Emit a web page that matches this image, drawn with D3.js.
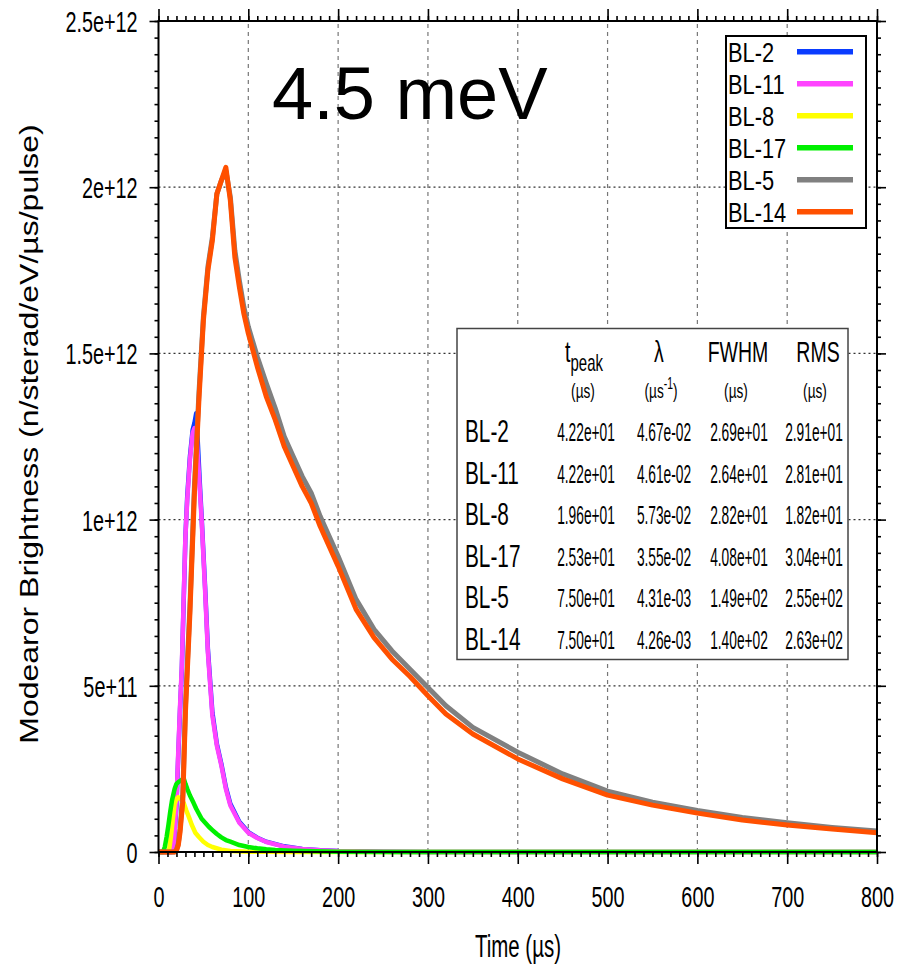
<!DOCTYPE html>
<html><head><meta charset="utf-8">
<script src="https://cdn.jsdelivr.net/npm/d3@7"></script>
<style>
html,body{margin:0;padding:0;background:#fff;}
svg{display:block;}
text{font-family:"Liberation Sans",Arial,Helvetica,sans-serif;fill:#000;}
</style></head>
<body>
<svg id="chart" width="897" height="964"></svg>
<script>
// ---------- data ----------
const seriesNames = ["BL-2","BL-11","BL-8","BL-17","BL-5","BL-14"];
// time grids (µs)
const tFast = [0,10,15,17,20,22,24,26,28,30,32,35,38,40,42,44,46,48,50,52,55,60,65,70,75,80,90,100,110,120,140,160,180,200,250,300,400,500,600,700,800];
const tSlow = [0,10,18,20,22,24,27,30,35,40,45,50,55,60,65,70,75,80,85,90,95,100,110,120,130,140,150,160,170,180,190,200,220,240,260,280,300,320,350,400,450,500,550,600,650,700,750,800];
const tBL8  = [0,10,12,14,16,18,20,22,25,28,31,34,37,41,45,50,55,60,70,80,100,120,150,200,800];
const tBL17 = [0,5,7,9,11,13,15,18,20,22,25,28,30,32,35,39,42,45,48,52,56,60,65,70,75,80,90,100,110,120,130,150,175,200,250,300,800];
// brightness values, units of 1e12 n/sterad/eV/µs/pulse
const vBL2  = [0,0,0,0.02,0.14,0.29,0.43,0.55,0.75,0.95,1.07,1.19,1.27,1.29,1.32,1.22,1.11,1.01,0.90,0.79,0.61,0.42,0.325,0.265,0.195,0.145,0.091,0.060,0.043,0.031,0.017,0.009,0.005,0.003,0.001,0.0003,0,0,0,0,0];
const vBL11 = [0,0,0,0.02,0.15,0.30,0.44,0.56,0.76,0.95,1.06,1.18,1.26,1.275,1.27,1.18,1.09,1.00,0.89,0.78,0.60,0.41,0.32,0.26,0.19,0.14,0.088,0.058,0.042,0.030,0.016,0.009,0.005,0.003,0.001,0.0003,0,0,0,0,0];
const vBL8  = [0,0,0.01,0.05,0.10,0.145,0.16,0.165,0.158,0.148,0.125,0.104,0.082,0.058,0.045,0.031,0.021,0.015,0.007,0.003,0.001,0.0005,0,0,0];
const vBL17 = [0,0,0.015,0.045,0.08,0.12,0.155,0.19,0.205,0.21,0.215,0.222,0.205,0.19,0.17,0.148,0.13,0.115,0.1,0.088,0.076,0.066,0.054,0.044,0.036,0.031,0.021,0.015,0.011,0.008,0.006,0.004,0.002,0.001,0.0003,0,0];
const vBL5  = [0,0,0,0.006,0.025,0.07,0.17,0.44,0.74,1.10,1.38,1.61,1.76,1.85,1.98,2.02,2.05,1.97,1.81,1.72,1.64,1.58,1.49,1.41,1.335,1.25,1.19,1.13,1.08,1.01,0.95,0.89,0.76,0.67,0.605,0.55,0.495,0.44,0.375,0.30,0.235,0.183,0.150,0.125,0.104,0.088,0.074,0.063];
const vBL14 = [0,0,0,0.005,0.02,0.06,0.15,0.42,0.72,1.08,1.36,1.60,1.75,1.84,1.98,2.02,2.06,1.96,1.79,1.70,1.62,1.56,1.46,1.37,1.30,1.22,1.16,1.10,1.05,0.98,0.92,0.86,0.73,0.645,0.58,0.528,0.47,0.415,0.355,0.28,0.22,0.171,0.141,0.117,0.096,0.081,0.069,0.058];

const xTicks = [0,100,200,300,400,500,600,700,800];
const xTickLabels = ["0","100","200","300","400","500","600","700","800"];
const yTicks = [0,5e11,1e12,1.5e12,2e12,2.5e12];
const yTickLabels = ["0","5e+11","1e+12","1.5e+12","2e+12","2.5e+12"];

// table
const tableRows = ["BL-2","BL-11","BL-8","BL-17","BL-5","BL-14"];
const tPeak  = ["4.22e+01","4.22e+01","1.96e+01","2.53e+01","7.50e+01","7.50e+01"];
const lambda = ["4.67e-02","4.61e-02","5.73e-02","3.55e-02","4.31e-03","4.26e-03"];
const fwhm   = ["2.69e+01","2.64e+01","2.82e+01","4.08e+01","1.49e+02","1.40e+02"];
const rms    = ["2.91e+01","2.81e+01","1.82e+01","3.04e+01","2.55e+02","2.63e+02"];

const titleText = "4.5 meV";
const xLabel = "Time (µs)";
const yLabel = "Modearor Brightness (n/sterad/eV/µs/pulse)";

// ---------- styles ----------
const colors = ["#0a3cff","#ff44ff","#ffff00","#00f000","#808080","#ff5000"];
const widths = [4.5,4.5,4.5,4.5,5,5];

const series = [
  {name:seriesNames[0], t:tFast, v:vBL2},
  {name:seriesNames[1], t:tFast, v:vBL11},
  {name:seriesNames[2], t:tBL8,  v:vBL8},
  {name:seriesNames[3], t:tBL17, v:vBL17},
  {name:seriesNames[4], t:tSlow, v:vBL5},
  {name:seriesNames[5], t:tSlow, v:vBL14}
];

const svg = d3.select("#chart");
const L = 158.5, R = 877, T = 21, B = 852;
const x = d3.scaleLinear().domain([0,800]).range([L,R]);
const y = d3.scaleLinear().domain([0,2.5e12]).range([B,T]);
const SX = 0.66; // horizontal squeeze of gnuplot text

// grid
const grid = svg.append("g");
grid.selectAll("line.vg").data(xTicks.slice(1,-1)).join("line")
  .attr("x1",d=>x(d)).attr("x2",d=>x(d)).attr("y1",B).attr("y2",T)
  .attr("stroke","#777").attr("stroke-width",1.2).attr("stroke-dasharray","4,4");
grid.selectAll("line.hg").data(yTicks.slice(1,-1)).join("line")
  .attr("y1",d=>y(d)).attr("y2",d=>y(d)).attr("x1",L).attr("x2",R)
  .attr("stroke","#333").attr("stroke-width",1.2).attr("stroke-dasharray","2,3");

// curves
const line = d3.line().x(d=>x(d[0])).y(d=>y(d[1]*1e12)).curve(d3.curveLinear);
const plot = svg.append("g");
series.forEach((s,i)=>{
  const pts = s.t.map((t,k)=>[t,s.v[k]]);
  plot.append("path").datum(pts).attr("d",line).attr("fill","none")
    .attr("stroke",colors[i]).attr("stroke-width",widths[i])
    .attr("stroke-linejoin","round").attr("stroke-linecap","butt");
});

// axes (ticks outward)
function styleAxis(g){ g.select(".domain").remove(); g.selectAll("line").attr("stroke","#000").attr("stroke-width",1.6); }
const gx = svg.append("g").attr("transform",`translate(0,${B})`)
  .call(d3.axisBottom(x).tickValues(xTicks).tickSize(12).tickFormat((d,i)=>xTickLabels[i]));
styleAxis(gx);
gx.selectAll("text").attr("y",0).attr("dy",null).style("font-size","30px")
  .attr("transform",`translate(0,55) scale(${SX},1)`);
svg.append("g").attr("transform",`translate(0,${B})`)
  .call(d3.axisBottom(x).tickValues(d3.range(0,801,10)).tickSize(5).tickFormat("")).call(styleAxis);
svg.append("g").attr("transform",`translate(0,${T})`)
  .call(d3.axisTop(x).tickValues(xTicks).tickSize(12).tickFormat("")).call(styleAxis);
svg.append("g").attr("transform",`translate(0,${T})`)
  .call(d3.axisTop(x).tickValues(d3.range(0,801,10)).tickSize(5).tickFormat("")).call(styleAxis);

const gy = svg.append("g").attr("transform",`translate(${L},0)`)
  .call(d3.axisLeft(y).tickValues(yTicks).tickSize(9).tickFormat((d,i)=>yTickLabels[i]));
styleAxis(gy);
gy.selectAll("text").attr("x",0).attr("dy",null).attr("y",0).style("font-size","30px")
  .attr("transform",`translate(-21,10.5) scale(${SX},1)`);
svg.append("g").attr("transform",`translate(${L},0)`)
  .call(d3.axisLeft(y).tickValues(d3.range(0,2.5e12+1,5e10)).tickSize(4).tickFormat("")).call(styleAxis);
svg.append("g").attr("transform",`translate(${R},0)`)
  .call(d3.axisRight(y).tickValues(yTicks).tickSize(9).tickFormat("")).call(styleAxis);
svg.append("g").attr("transform",`translate(${R},0)`)
  .call(d3.axisRight(y).tickValues(d3.range(0,2.5e12+1,5e10)).tickSize(4).tickFormat("")).call(styleAxis);

// border on top
svg.append("rect").attr("x",L).attr("y",T).attr("width",R-L).attr("height",B-T)
  .attr("fill","none").attr("stroke","#000").attr("stroke-width",2);

// helper for squeezed text
function stext(parent, tx, ty, str, size, anchor, sx){
  return parent.append("text").attr("transform",`translate(${tx},${ty}) scale(${sx},1)`)
    .attr("text-anchor",anchor).style("font-size",size+"px").text(str);
}

// axis titles
stext(svg, 518, 957, xLabel, 31, "middle", SX);
svg.append("text").attr("transform",`translate(38,434) scale(0.8,1) rotate(-90)`)
  .attr("text-anchor","middle").style("font-size","32px").text(yLabel);

// title
svg.append("text").attr("x",272).attr("y",119).style("font-size","74px").text(titleText);

// legend
const lg = svg.append("g");
lg.append("rect").attr("x",726).attr("y",36).attr("width",140).attr("height",192)
  .attr("fill","#fff").attr("stroke","#000").attr("stroke-width",2);
seriesNames.forEach((n,i)=>{
  const yy = 51.7 + i*32;
  stext(lg, 728, yy+10, n, 28, "start", 0.78);
  lg.append("line").attr("x1",797).attr("x2",853).attr("y1",yy).attr("y2",yy)
    .attr("stroke",colors[i]).attr("stroke-width",5.5);
});

// table
const tb = svg.append("g");
tb.append("rect").attr("x",457).attr("y",328.5).attr("width",391).attr("height",331)
  .attr("fill","#fff").attr("stroke","#444").attr("stroke-width",1.5);
const colX = [586,664,739,814];
// headers
const h1 = tb.append("text").attr("transform",`translate(584,362) scale(0.65,1)`).attr("text-anchor","middle").style("font-size","30px");
h1.append("tspan").text("t");
h1.append("tspan").attr("dy",9).style("font-size","23px").text("peak");
stext(tb, 659, 362, "λ", 30, "middle", 0.65);
stext(tb, 738, 362, "FWHM", 30, "middle", 0.65);
stext(tb, 818, 362, "RMS", 30, "middle", 0.65);
stext(tb, 583, 398, "(µs)", 21, "middle", 0.65);
const u2 = tb.append("text").attr("transform",`translate(661,398) scale(0.65,1)`).attr("text-anchor","middle").style("font-size","21px");
u2.append("tspan").text("(µs");
u2.append("tspan").attr("dy",-9).style("font-size","16px").text("-1");
u2.append("tspan").attr("dy",9).text(")");
stext(tb, 736, 398, "(µs)", 21, "middle", 0.65);
stext(tb, 815, 398, "(µs)", 21, "middle", 0.65);
tableRows.forEach((r,i)=>{
  const by = 442 + i*41.5;
  stext(tb, 465, by, r, 32, "start", 0.65);
  [tPeak[i],lambda[i],fwhm[i],rms[i]].forEach((v,j)=>{
    stext(tb, colX[j], by-1, v, 25, "middle", 0.55);
  });
});
</script>
</body></html>
